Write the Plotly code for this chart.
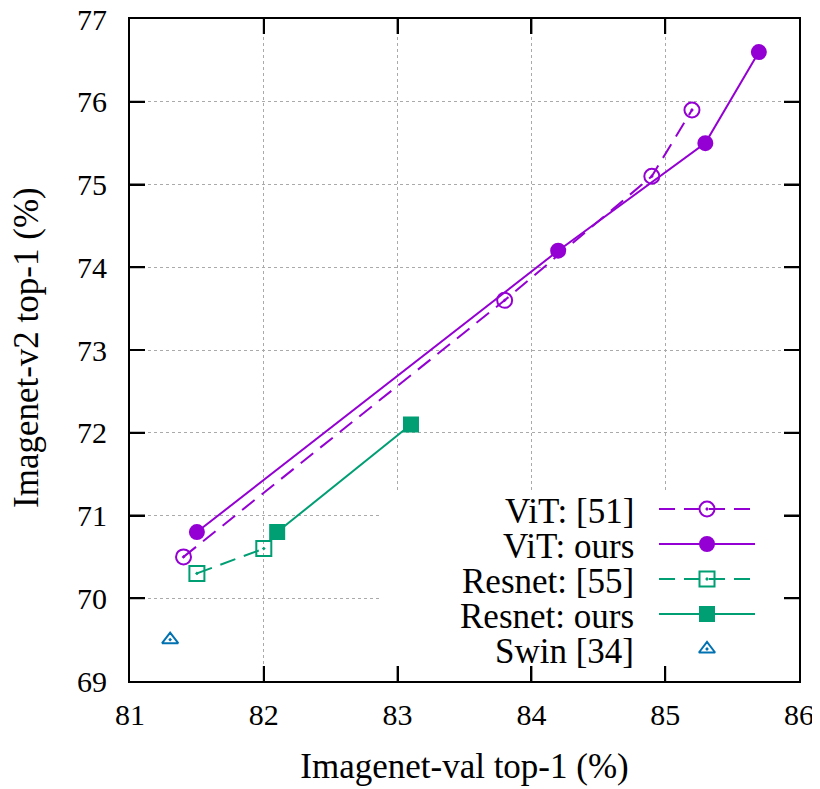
import plotly.graph_objects as go

# ---- data ----
vit51_x = [81.4, 83.8, 84.9, 85.2]
vit51_y = [70.5, 73.6, 75.1, 75.9]
vitours_x = [81.5, 84.2, 85.3, 85.7]
vitours_y = [70.8, 74.2, 75.5, 76.6]
res55_x = [81.5, 82.0]
res55_y = [70.3, 70.6]
resours_x = [82.1, 83.1]
resours_y = [70.8, 72.1]
swin_x = [81.3]
swin_y = [69.5]

x_ticks = [81, 82, 83, 84, 85, 86]
y_ticks = [69, 70, 71, 72, 73, 74, 75, 76, 77]

PURPLE = "#9400D3"
GREEN = "#009E73"
BLUE = "#0072B2"
FONT = "Liberation Serif"
DASH = "16px,9px"
TICKLEN = 15

XR = [81, 86]
YR = [69, 77]
# plot-area pixel box in the page (used only to place the legend key)
PX_L, PX_R, PX_T, PX_B = 130, 799, 19, 681
PAGE_OFF = 8  # default body margin of the html page


def px_x(p):
    return XR[0] + (p - PX_L) / (PX_R - PX_L) * (XR[1] - XR[0])


def px_y(p):
    return YR[1] - (p - PX_T) / (PX_B - PX_T) * (YR[1] - YR[0])


series = [
    dict(name="ViT: [51]", x=vit51_x, y=vit51_y, color=PURPLE, dash=DASH,
         symbol="circle-open-dot", size=15, mode="lines+markers"),
    dict(name="ViT: ours", x=vitours_x, y=vitours_y, color=PURPLE, dash="solid",
         symbol="circle", size=14, mode="lines+markers"),
    dict(name="Resnet: [55]", x=res55_x, y=res55_y, color=GREEN, dash=DASH,
         symbol="square-open-dot", size=15, mode="lines+markers"),
    dict(name="Resnet: ours", x=resours_x, y=resours_y, color=GREEN, dash="solid",
         symbol="square", size=14, mode="lines+markers"),
    dict(name="Swin [34]", x=swin_x, y=swin_y, color=BLUE, dash="solid",
         symbol="triangle-up-open-dot", size=14, mode="markers"),
]

fig = go.Figure()

# white legend box (drawn first, hides the grid under the key)
bx0, bx1, by0, by1 = px_x(380), px_x(PX_R), px_y(490), px_y(PX_B)
fig.add_trace(go.Scatter(
    x=[bx0, bx1, bx1, bx0, bx0], y=[by0, by0, by1, by1, by0],
    mode="lines", fill="toself", fillcolor="white", line=dict(width=0),
    hoverinfo="skip", showlegend=False))

for s in series:
    fig.add_trace(go.Scatter(
        x=s["x"], y=s["y"], mode=s["mode"], name=s["name"], showlegend=False,
        line=dict(color=s["color"], width=2, dash=s["dash"]),
        marker=dict(symbol=s["symbol"], size=s["size"], color=s["color"],
                    line=dict(color=s["color"], width=2)),
    ))

# ---- custom legend (gnuplot style: text right, key on the right) ----
row0, row_step = 509, 35
key_x0, key_x1, key_mid, text_right = 659, 755, 707, 636
for i, s in enumerate(series):
    ry = px_y(row0 + i * row_step)
    if s["mode"] == "lines+markers":
        fig.add_trace(go.Scatter(
            x=[px_x(key_x0), px_x(key_x1)], y=[ry, ry], mode="lines",
            showlegend=False, hoverinfo="skip",
            line=dict(color=s["color"], width=2, dash=s["dash"])))
    fig.add_trace(go.Scatter(
        x=[px_x(key_mid)], y=[ry], mode="markers", showlegend=False,
        hoverinfo="skip",
        marker=dict(symbol=s["symbol"], size=s["size"], color=s["color"],
                    line=dict(color=s["color"], width=2))))
    fig.add_annotation(x=px_x(text_right), y=px_y(row0 + i * row_step + 2),
                       text=s["name"],
                       showarrow=False, xanchor="right", yanchor="middle",
                       font=dict(family=FONT, size=35, color="black"))

# ---- inward tick marks on all four sides (gnuplot style) ----
tick_line = dict(color="black", width=2)
for v in x_ticks[1:-1]:
    for anchor, sign in ((0, 1), (1, -1)):
        fig.add_shape(type="line", xref="x", yref="y domain", ysizemode="pixel",
                      yanchor=anchor, x0=v, x1=v, y0=0, y1=sign * TICKLEN,
                      line=tick_line, layer="above")
for v in y_ticks[1:-1]:
    for anchor, sign in ((0, 1), (1, -1)):
        fig.add_shape(type="line", xref="x domain", yref="y", xsizemode="pixel",
                      xanchor=anchor, x0=0, x1=sign * TICKLEN, y0=v, y1=v,
                      line=tick_line, layer="above")

# y-axis title placed like gnuplot (further left than plotly's default)
fig.add_annotation(text="Imagenet-v2 top-1 (%)", textangle=-90,
                   xref="paper", yref="paper",
                   x=(26 - PX_L) / (PX_R - PX_L), y=(PX_B - 348) / (PX_B - PX_T),
                   xanchor="center", yanchor="middle", showarrow=False,
                   font=dict(family=FONT, size=35, color="black"))

axis_common = dict(
    showline=True, linecolor="black", linewidth=2, mirror="ticks",
    ticks="inside", ticklen=TICKLEN, tickwidth=2, tickcolor="black",
    showgrid=True, gridcolor="#aaaaaa", griddash="dot", gridwidth=1,
    zeroline=False, ticklabeloverflow="allow", automargin=False,
    tickfont=dict(family=FONT, size=30, color="black"),
)

NBSP = "\u00a0"
fig.update_layout(
    width=820 - PAGE_OFF, height=789 - PAGE_OFF,
    margin=dict(l=PX_L - PAGE_OFF, r=820 - PX_R, t=PX_T - PAGE_OFF, b=789 - PX_B),
    paper_bgcolor="white", plot_bgcolor="white",
    showlegend=False,
    font=dict(family=FONT, color="black"),
    xaxis=dict(range=XR, tickvals=x_ticks, ticklabelstandoff=6,
               title=dict(text="Imagenet-val top-1 (%)", standoff=23,
                          font=dict(family=FONT, size=35, color="black")),
               **axis_common),
    yaxis=dict(range=YR, tickvals=y_ticks,
               ticktext=[f"{v}{NBSP * 2}" for v in y_ticks],
               **axis_common),
)

fig.write_html("out.html")
